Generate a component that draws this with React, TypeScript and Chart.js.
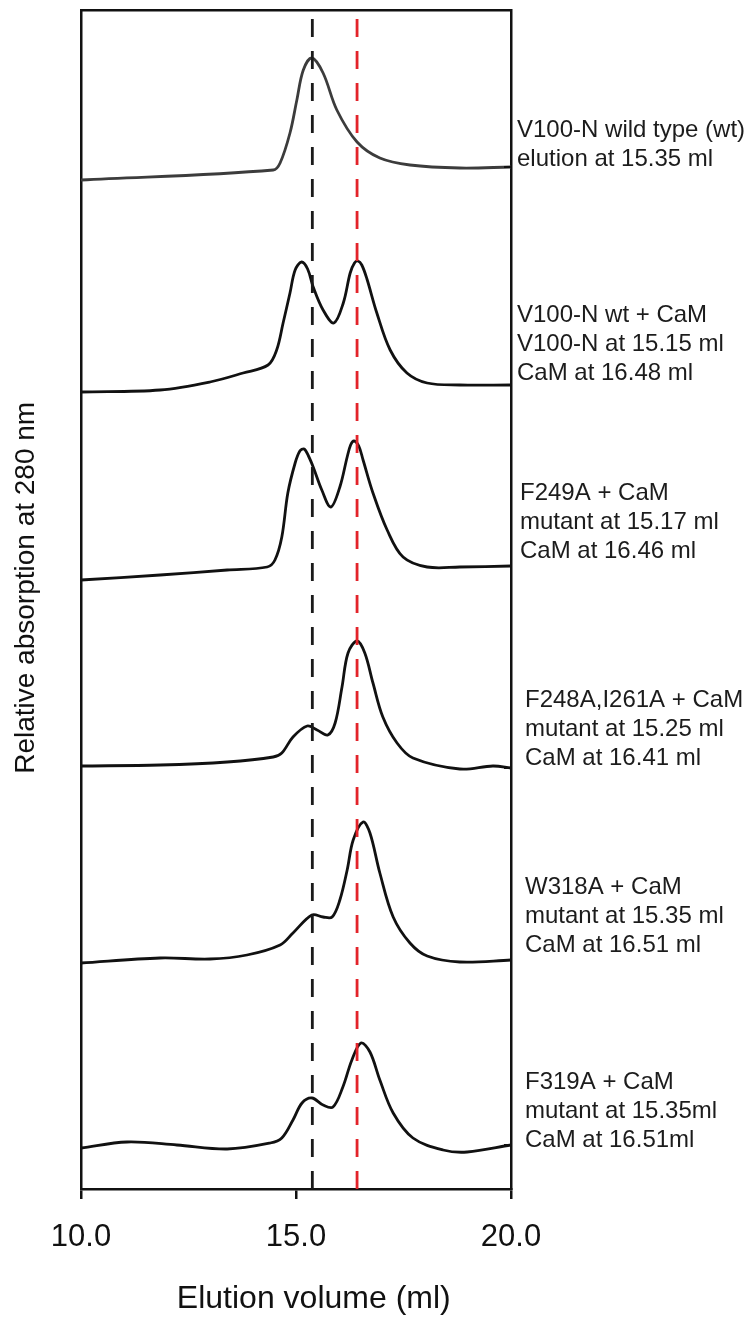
import React, { useEffect, useRef } from "react";
import { Chart, registerables } from "chart.js";

Chart.register(...registerables);

const FONT = '"Liberation Sans", Arial, Helvetica, sans-serif';

// ---- axis ranges / ticks ----
const X_MIN = 10;
const X_MAX = 20;
const xTickValues = [10, 15, 20];
const Y_MIN = 0;
const Y_MAX = 117.9;

// ---- traces (elution volume in ml, stacked relative absorption) ----
const wtX = [10, 14.47, 14.63, 14.86, 15.02, 15.17, 15.37, 15.63, 15.95, 16.42, 16.95, 17.65, 18.81, 20];
const wtY = [100.9, 101.9, 102.6, 105.6, 108.9, 111.9, 113.1, 111.6, 107.9, 104.7, 103.1, 102.4, 102.1, 102.2];

const wtCamX = [10, 11.84, 13.0, 13.77, 14.35, 14.55, 14.7, 14.86, 14.98, 15.13, 15.27, 15.4, 15.63, 15.88, 16.1, 16.26, 16.36, 16.44, 16.53, 16.65, 16.88, 17.19, 17.58, 18.05, 18.81, 20];
const wtCamY = [79.7, 79.9, 80.7, 81.6, 82.4, 83.9, 86.6, 89.6, 91.9, 92.7, 92.0, 90.2, 87.9, 86.6, 88.6, 91.6, 92.6, 92.8, 92.4, 91.0, 87.6, 83.9, 81.6, 80.6, 80.4, 80.4];

const f249aX = [10, 11.84, 13.4, 14.33, 14.51, 14.67, 14.81, 14.98, 15.09, 15.19, 15.29, 15.4, 15.6, 15.81, 16.02, 16.19, 16.27, 16.35, 16.46, 16.56, 16.79, 17.12, 17.49, 18.05, 18.81, 20];
const f249aY = [60.9, 61.4, 61.9, 62.2, 62.9, 65.2, 69.6, 72.6, 73.8, 74.0, 73.3, 72.2, 69.9, 68.2, 70.2, 73.2, 74.4, 74.8, 74.3, 72.9, 69.6, 65.9, 63.2, 62.2, 62.2, 62.3];

const f248aX = [10, 11.84, 13.4, 14.47, 14.67, 14.93, 15.26, 15.49, 15.74, 15.91, 16.07, 16.21, 16.42, 16.6, 16.79, 17.02, 17.35, 17.72, 18.81, 19.58, 20];
const f248aY = [42.3, 42.4, 42.7, 43.2, 43.6, 45.2, 46.3, 45.9, 45.4, 46.6, 50.2, 53.6, 54.8, 53.6, 50.6, 47.2, 44.6, 43.1, 42.0, 42.3, 42.1];

const w318aX = [10, 11.84, 13.0, 13.86, 14.63, 14.93, 15.37, 15.63, 15.84, 16.02, 16.19, 16.33, 16.56, 16.72, 16.95, 17.26, 17.65, 18.05, 18.81, 20];
const w318aY = [22.6, 23.1, 23.0, 23.4, 24.4, 25.6, 27.4, 27.2, 27.2, 28.9, 31.9, 34.9, 36.7, 35.6, 31.6, 27.2, 24.6, 23.3, 22.7, 22.9];

const f319aX = [10, 11.07, 12.23, 13.4, 14.4, 14.67, 14.93, 15.14, 15.37, 15.63, 15.86, 16.09, 16.3, 16.51, 16.72, 16.95, 17.26, 17.72, 18.42, 18.98, 20];
const f319aY = [4.1, 4.7, 4.4, 4.0, 4.6, 5.1, 6.9, 8.6, 9.1, 8.4, 8.2, 10.2, 12.9, 14.6, 13.7, 10.9, 7.6, 5.1, 3.9, 3.7, 4.4];

// ---- reference elution volumes (dashed lines) ----
const markerBlack = 15.38;
const markerRed = 16.42;

// ---- texts ----
const xTitle = "Elution volume (ml)";
const yTitle = "Relative absorption at 280 nm";
const labelLines = [
  ["V100-N wild type (wt)", "elution at 15.35 ml"],
  ["V100-N wt + CaM", "V100-N at 15.15 ml", "CaM at 16.48 ml"],
  ["F249A + CaM", "mutant at 15.17 ml", "CaM at 16.46 ml"],
  ["F248A,I261A + CaM", "mutant at 15.25 ml", "CaM at 16.41 ml"],
  ["W318A + CaM", "mutant at 15.35 ml", "CaM at 16.51 ml"],
  ["F319A + CaM", "mutant at 15.35ml", "CaM at 16.51ml"],
];

// layout of annotations (kept apart from data)
const labelAnchorY = [105.9, 87.4, 69.6, 48.9, 30.2, 10.7];
const labelOffsetX = [6, 6, 9, 14, 14, 14];
const LABEL_LINE_H = 29;
const RIGHT_TICK_LEN = 7;

const traces = [
  { xs: wtX, ys: wtY, color: "#3c3c3c" },
  { xs: wtCamX, ys: wtCamY, color: "#111111" },
  { xs: f249aX, ys: f249aY, color: "#111111" },
  { xs: f248aX, ys: f248aY, color: "#111111" },
  { xs: w318aX, ys: w318aY, color: "#111111" },
  { xs: f319aX, ys: f319aY, color: "#111111" },
];

const traceEnds = traces.map((t) => t.ys[t.ys.length - 1]);

const annotationPlugin = {
  id: "annotations",
  afterDraw(chart: any) {
    const { ctx, chartArea, scales } = chart;
    ctx.save();
    // inward tick marks on the right frame at each trace's end level
    ctx.strokeStyle = "#111";
    ctx.lineWidth = 2;
    traceEnds.forEach((v) => {
      const y = Math.round(scales.y.getPixelForValue(v));
      ctx.beginPath();
      ctx.moveTo(chartArea.right, y);
      ctx.lineTo(chartArea.right - RIGHT_TICK_LEN, y);
      ctx.stroke();
    });
    // right-hand labels
    ctx.font = `24px ${FONT}`;
    ctx.fillStyle = "#1c1c1c";
    ctx.textBaseline = "middle";
    ctx.textAlign = "left";
    labelLines.forEach((lines, i) => {
      const y0 = scales.y.getPixelForValue(labelAnchorY[i]);
      lines.forEach((t, j) => {
        ctx.fillText(t, chartArea.right + labelOffsetX[i], y0 + j * LABEL_LINE_H);
      });
    });
    ctx.restore();
  },
};

export default function App() {
  const ref = useRef<HTMLCanvasElement>(null);

  useEffect(() => {
    if (!ref.current) return;
    const datasets: any[] = [
      {
        data: [
          { x: markerBlack, y: Y_MIN },
          { x: markerBlack, y: Y_MAX },
        ],
        borderColor: "#1a1a1a",
        borderWidth: 2.8,
        borderDash: [18, 14],
        pointRadius: 0,
        order: 0,
      },
      {
        data: [
          { x: markerRed, y: Y_MIN },
          { x: markerRed, y: Y_MAX },
        ],
        borderColor: "#e3232a",
        borderWidth: 2.8,
        borderDash: [18, 14],
        pointRadius: 0,
        order: 0,
      },
      ...traces.map((t) => ({
        data: t.xs.map((x, i) => ({ x, y: t.ys[i] })),
        borderColor: t.color,
        borderWidth: 2.8,
        pointRadius: 0,
        fill: false,
        tension: 0.35,
        order: 1,
      })),
    ];

    const chart = new Chart(ref.current, {
      type: "line",
      data: { datasets },
      plugins: [annotationPlugin],
      options: {
        animation: false,
        responsive: false,
        devicePixelRatio: 1,
        events: [],
        layout: { padding: { top: 10, right: 244, bottom: 0, left: 0 } },
        plugins: {
          legend: { display: false },
          tooltip: { enabled: false },
        },
        scales: {
          x: {
            type: "linear",
            position: "bottom",
            min: X_MIN,
            max: X_MAX,
            afterBuildTicks: (s: any) => {
              s.ticks = xTickValues.map((v) => ({ value: v }));
            },
            ticks: {
              font: { size: 31, family: FONT },
              color: "#111",
              padding: 20,
              maxRotation: 0,
              autoSkip: false,
              callback: (v: any) => Number(v).toFixed(1),
            },
            grid: {
              display: true,
              drawOnChartArea: false,
              drawTicks: true,
              tickLength: 10,
              lineWidth: 2.5,
              color: "#111",
            },
            border: { display: true, width: 2.5, color: "#111" },
            title: {
              display: true,
              text: "    " + xTitle,
              font: { size: 32, family: FONT },
              color: "#111",
              padding: { top: 0, bottom: 0 },
            },
            afterFit: (s: any) => {
              s.height = 129;
            },
          },
          xTop: {
            type: "linear",
            position: "top",
            min: X_MIN,
            max: X_MAX,
            ticks: { display: false },
            grid: { display: false },
            border: { display: true, width: 2.5, color: "#111" },
            afterFit: (s: any) => {
              s.height = 0;
            },
          },
          y: {
            type: "linear",
            position: "left",
            min: Y_MIN,
            max: Y_MAX,
            ticks: { display: false },
            grid: { display: false },
            border: { display: true, width: 2.5, color: "#111" },
            title: {
              display: true,
              text: "   " + yTitle,
              font: { size: 28, family: FONT },
              color: "#111",
              padding: { top: 9, bottom: 0 },
            },
            afterFit: (s: any) => {
              s.width = 81;
            },
          },
          yRight: {
            type: "linear",
            position: "right",
            min: Y_MIN,
            max: Y_MAX,
            ticks: { display: false },
            grid: { display: false },
            border: { display: true, width: 2.5, color: "#111" },
            afterFit: (s: any) => {
              s.width = 0;
            },
          },
        },
      } as any,
    });
    return () => chart.destroy();
  }, []);

  return (
    <div
      style={{
        position: "absolute",
        left: 0,
        top: 0,
        width: 755,
        height: 1318,
        background: "#ffffff",
      }}
    >
      <canvas
        ref={ref}
        width={755}
        height={1318}
        style={{ display: "block", width: 755, height: 1318 }}
      />
    </div>
  );
}
